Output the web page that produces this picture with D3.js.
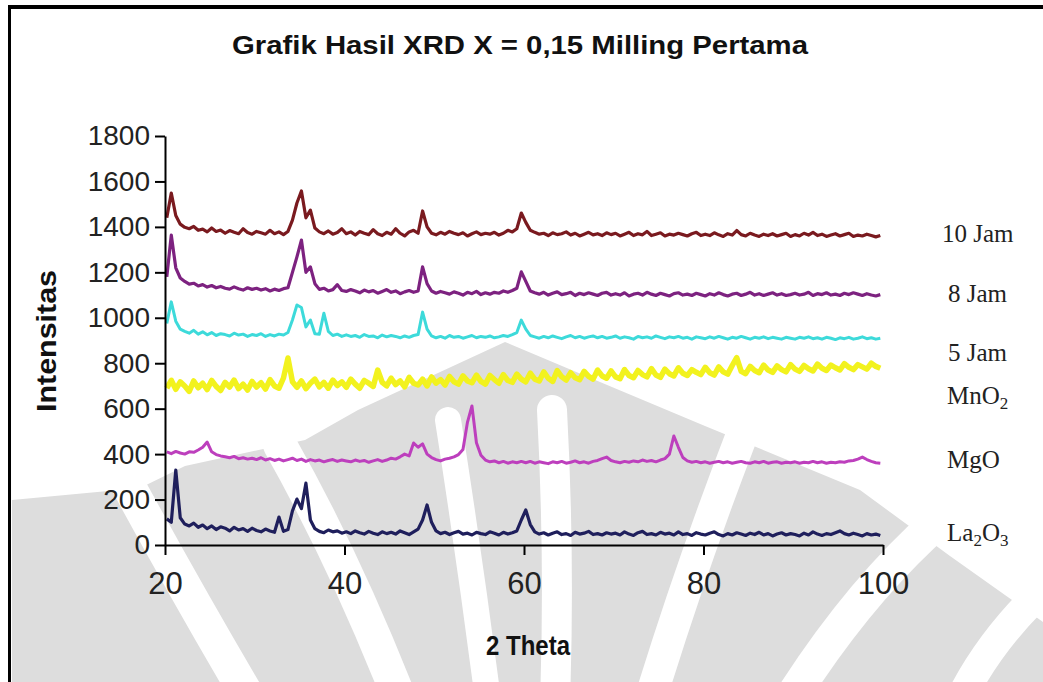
<!DOCTYPE html>
<html>
<head>
<meta charset="utf-8">
<script src="https://cdn.jsdelivr.net/npm/d3@7"></script>
<style>
  html, body { margin: 0; padding: 0; background: #fff; }
  svg { display: block; }
</style>
</head>
<body>
<svg id="chart" width="1043" height="682"></svg>
<script>
// 2-theta sampling grid of the diffractograms (degrees)
const thetaStart = 20.2;
const thetaStep = 0.5;

const xTicks = [20, 40, 60, 80, 100];
const yTicks = [0, 200, 400, 600, 800, 1000, 1200, 1400, 1600, 1800];

const seriesNames = ["10 Jam", "8 Jam", "5 Jam", "MnO2", "MgO", "La2O3"];

// intensities, one value per grid step (20.2 ... 99.7)
const jam10 = [
  1440, 1549, 1450, 1412, 1398, 1392, 1402, 1385, 1390, 1378, 1395, 1380, 1386, 1372, 1384, 1376, 1370, 1392, 1375, 1368,
  1380, 1374, 1368, 1385, 1370, 1378, 1366, 1380, 1430, 1505, 1558, 1440, 1474, 1395, 1378, 1370, 1382, 1368, 1375, 1392,
  1370, 1378, 1364, 1380, 1372, 1366, 1388, 1370, 1362, 1376, 1368, 1392, 1372, 1360, 1378, 1385, 1372, 1470, 1400, 1372,
  1365, 1376, 1368, 1380, 1372, 1366, 1374, 1360, 1370, 1378, 1366, 1372, 1368, 1376, 1364, 1372, 1385, 1378, 1392, 1461,
  1420, 1385, 1376, 1368, 1372, 1362, 1374, 1366, 1370, 1378, 1364, 1372, 1360, 1368, 1376, 1365, 1370, 1362, 1374, 1366,
  1372, 1360, 1368, 1376, 1362, 1370, 1365, 1380, 1362, 1368, 1374, 1360, 1368, 1364, 1372, 1366, 1360, 1370, 1376, 1362,
  1368, 1362, 1374, 1365, 1358, 1370, 1364, 1384, 1366, 1360, 1372, 1364, 1358, 1368, 1362, 1370, 1360, 1366, 1372, 1358,
  1366, 1360, 1372, 1364, 1376, 1362, 1368, 1358, 1364, 1370, 1360, 1366, 1372, 1358, 1364, 1360, 1368, 1362, 1356, 1362
];
const jam8 = [
  1180, 1364, 1220, 1175, 1160, 1148, 1152, 1140, 1146, 1135, 1142, 1132, 1138, 1130, 1126, 1136, 1128, 1122, 1132, 1125,
  1130, 1122, 1128, 1118, 1126, 1120, 1128, 1132, 1200, 1268, 1342, 1200, 1224, 1150, 1125, 1130, 1118, 1124, 1146, 1120,
  1116, 1124, 1118, 1110, 1122, 1114, 1120, 1108, 1116, 1124, 1112, 1118, 1106, 1114, 1120, 1112, 1118, 1224, 1150, 1118,
  1108, 1116, 1110, 1104, 1114, 1108, 1100, 1112, 1106, 1116, 1102, 1110, 1104, 1112, 1108, 1118, 1112, 1120, 1130, 1202,
  1160, 1118, 1110, 1104, 1112, 1100, 1108, 1114, 1102, 1106, 1112, 1098, 1108, 1102, 1110, 1104, 1098, 1108, 1112, 1100,
  1106, 1100, 1110, 1096, 1104, 1108, 1100, 1112, 1104, 1098, 1108, 1102, 1096, 1106, 1110, 1100, 1104, 1098, 1108, 1102,
  1096, 1106, 1100, 1110, 1102, 1096, 1104, 1108, 1098, 1104, 1112, 1100, 1106, 1098, 1104, 1110, 1100, 1106, 1098, 1102,
  1108, 1100, 1104, 1112, 1098, 1106, 1102, 1110, 1100, 1104, 1098, 1108, 1102, 1110, 1104, 1098, 1106, 1100, 1096, 1102
];
const jam5 = [
  975, 1070, 985, 950, 940, 932, 945, 928, 938, 925, 935, 922, 930, 926, 920, 932, 924, 928, 918, 926,
  922, 930, 918, 926, 920, 928, 924, 935, 990, 1056, 1045, 960, 990, 930, 928, 1020, 940, 922, 928, 918,
  925, 918, 922, 914, 926, 918, 920, 912, 924, 916, 922, 918, 912, 920, 914, 922, 926, 1025, 950, 920,
  912, 918, 910, 922, 914, 918, 910, 916, 922, 912, 918, 914, 920, 912, 916, 922, 918, 926, 935, 990,
  950, 922, 916, 910, 918, 912, 920, 914, 908, 916, 922, 912, 918, 910, 916, 920, 912, 918, 910, 914,
  920, 910, 916, 912, 906, 918, 912, 916, 910, 920, 914, 908, 916, 912, 918, 910, 914, 906, 916, 912,
  908, 916, 910, 918, 912, 906, 914, 910, 918, 912, 906, 914, 910, 916, 908, 914, 910, 906, 914, 910,
  906, 914, 910, 916, 908, 912, 906, 914, 910, 904, 912, 908, 914, 906, 910, 916, 908, 912, 906, 910
];
const mno2 = [
  690, 725, 685, 718, 700, 676, 722, 692, 712, 684, 724, 698, 680, 716, 695, 726, 688, 708, 682, 720,
  695, 714, 686, 728, 700, 690, 735, 823, 718, 694, 722, 688, 712, 730, 696, 716, 690, 726, 702, 718,
  694, 730, 708, 690, 724, 712, 698, 770, 716, 700, 734, 706, 722, 696, 738, 712, 704, 730, 700, 740,
  712, 728, 704, 742, 718, 708, 744, 722, 714, 748, 720, 708, 746, 728, 712, 750, 724, 716, 752, 730,
  718, 756, 730, 722, 762, 734, 720, 768, 740, 726, 758, 736, 728, 764, 742, 730, 770, 744, 734, 766,
  740, 732, 772, 746, 736, 768, 750, 740, 776, 748, 738, 774, 754, 744, 780, 756, 746, 772, 760, 750,
  782, 758, 748, 784, 762, 752, 790, 825, 764, 754, 786, 768, 758, 792, 770, 760, 788, 772, 762, 794,
  774, 764, 790, 776, 766, 796, 778, 768, 792, 780, 770, 798, 782, 772, 794, 784, 774, 800, 786, 778
];
const mgo = [
  410, 402, 412, 405, 400, 410, 408, 418, 430, 453, 410, 398, 392, 388, 384, 390, 380, 384, 378, 382,
  376, 384, 374, 380, 372, 378, 370, 376, 382, 372, 378, 368, 376, 370, 374, 366, 372, 376, 368, 374,
  370, 366, 374, 368, 372, 364, 370, 376, 368, 374, 382, 378, 388, 400, 392, 449, 430, 445, 400, 385,
  376, 370, 378, 382, 388, 398, 420, 540, 612, 450, 395, 374, 366, 370, 362, 368, 360, 366, 362, 368,
  362, 368, 360, 366, 362, 358, 366, 362, 368, 360, 364, 370, 362, 366, 360, 368, 372, 380, 387, 372,
  366, 362, 368, 364, 370, 366, 374, 368, 372, 366, 374, 380, 400, 480, 430, 385, 370, 364, 368, 362,
  366, 360, 364, 368, 362, 366, 360, 364, 368, 362, 360, 366, 362, 368, 360, 364, 366, 360, 364, 362,
  366, 360, 364, 362, 368, 362, 366, 360, 364, 362, 366, 364, 370, 372, 378, 387, 376, 368, 362, 360
];
const la2o3 = [
  115, 100, 330, 120, 92, 84, 96, 78, 88, 72, 84, 68, 80, 74, 62, 78, 66, 72, 60, 74,
  64, 58, 70, 62, 56, 123, 60, 68, 150, 202, 160, 272, 110, 72, 60, 54, 66, 58, 62, 52,
  58, 50, 62, 54, 48, 60, 52, 46, 58, 50, 56, 48, 62, 54, 46, 58, 70, 110, 176, 100,
  62, 50, 56, 46, 54, 60, 48, 52, 44, 56, 50, 46, 58, 52, 44, 56, 48, 54, 62, 110,
  154, 90, 58, 48, 54, 44, 52, 58, 46, 50, 42, 56, 48, 52, 60, 46, 50, 44, 54, 48,
  52, 44, 58, 48, 42, 54, 60, 46, 50, 44, 56, 48, 52, 44, 58, 46, 50, 42, 54, 48,
  44, 52, 58, 46, 40, 50, 44, 54, 48, 42, 52, 46, 56, 44, 50, 40, 48, 54, 44, 50,
  46, 40, 52, 44, 58, 48, 42, 50, 46, 54, 62, 50, 44, 52, 46, 40, 50, 44, 48, 42
];

// ---- layout -------------------------------------------------------------
const W = 1043, H = 682;
const plot = { left: 165, right: 883, top: 136, bottom: 545 };

const svg = d3.select("#chart");
svg.append("rect").attr("width", W).attr("height", H).attr("fill", "#fff");

// faint background emblem (light grey fan with white petals)
const emblem = svg.append("g").attr("class", "emblem");
emblem.append("path")
  .attr("d", "M505,342 L600,382 L705,426 L860,490 L950,556 L1043,622 L1043,682 L12,682 L12,500 L140,488 L185,466 L305,440 L358,410 Z")
  .attr("fill", "#dddddd");
const petals = [
  { d: "M250,700 Q185,590 120,470", w: 34 },
  { d: "M400,700 Q345,560 280,445", w: 34 },
  { d: "M488,700 Q470,560 448,420", w: 26 },
  { d: "M555,700 Q560,560 552,410", w: 30 },
  { d: "M650,700 Q690,570 740,440", w: 32 },
  { d: "M790,700 Q860,590 940,520", w: 34 },
  { d: "M960,700 Q990,640 1043,590", w: 30 }
];
emblem.selectAll("path.petal").data(petals).join("path")
  .attr("class", "petal")
  .attr("d", p => p.d)
  .attr("fill", "none")
  .attr("stroke", "#fff")
  .attr("stroke-width", p => p.w)
  .attr("stroke-linecap", "round");

// frame lines (top and left)
svg.append("line").attr("x1", 8).attr("x2", W).attr("y1", 7).attr("y2", 7)
  .attr("stroke", "#000").attr("stroke-width", 4);
svg.append("line").attr("x1", 9.5).attr("x2", 9.5).attr("y1", 5).attr("y2", H)
  .attr("stroke", "#000").attr("stroke-width", 3);

// ---- scales -------------------------------------------------------------
const x = d3.scaleLinear().domain([20, 100]).range([plot.left, plot.right]);
const y = d3.scaleLinear().domain([0, 1800]).range([plot.bottom, plot.top]);

const series = [
  { name: seriesNames[0], values: jam10, color: "#7a1a1f", width: 3.2 },
  { name: seriesNames[1], values: jam8, color: "#7d2280", width: 3.2 },
  { name: seriesNames[2], values: jam5, color: "#3ddada", width: 3 },
  { name: seriesNames[3], values: mno2, color: "#f2f21e", width: 5.5 },
  { name: seriesNames[4], values: mgo, color: "#bd3fbd", width: 3 },
  { name: seriesNames[5], values: la2o3, color: "#1f1f5c", width: 3.2 }
];

const line = d3.line()
  .x((d, i) => x(thetaStart + i * thetaStep))
  .y(d => y(d))
  .curve(d3.curveLinear);

svg.append("g").selectAll("path").data(series).join("path")
  .attr("d", s => line(s.values))
  .attr("fill", "none")
  .attr("stroke", s => s.color)
  .attr("stroke-width", s => s.width)
  .attr("stroke-linejoin", "round");

// ---- axes ---------------------------------------------------------------
const yAxis = d3.axisLeft(y).tickValues(yTicks).tickFormat(d3.format("d"))
  .tickSize(10).tickSizeOuter(0).tickPadding(5);
const xAxis = d3.axisBottom(x).tickValues(xTicks).tickFormat(d3.format("d"))
  .tickSize(10).tickSizeOuter(0).tickPadding(17);

const gy = svg.append("g").attr("transform", `translate(${plot.left},0)`).call(yAxis);
const gx = svg.append("g").attr("transform", `translate(0,${plot.bottom})`).call(xAxis);

[gx, gy].forEach(g => {
  g.selectAll(".domain").attr("stroke", "#000").attr("stroke-width", 2);
  g.selectAll(".tick line").attr("stroke", "#000").attr("stroke-width", 2);
  g.selectAll("text")
    .attr("font-family", "'Liberation Sans', Arial, sans-serif")
    .attr("fill", "#222");
});
gy.selectAll("text").attr("font-size", 28);
gx.selectAll("text").attr("font-size", 31);

// ---- titles -------------------------------------------------------------
svg.append("text")
  .attr("x", 520).attr("y", 54)
  .attr("text-anchor", "middle")
  .attr("font-family", "'Liberation Sans', Arial, sans-serif")
  .attr("font-weight", "bold").attr("font-size", 26)
  .attr("textLength", 576).attr("lengthAdjust", "spacingAndGlyphs")
  .attr("fill", "#111")
  .text("Grafik Hasil  XRD X = 0,15 Milling Pertama");

svg.append("text")
  .attr("transform", "translate(56,341) rotate(-90)")
  .attr("text-anchor", "middle")
  .attr("font-family", "'Liberation Sans', Arial, sans-serif")
  .attr("font-weight", "bold").attr("font-size", 28)
  .attr("textLength", 142).attr("lengthAdjust", "spacingAndGlyphs")
  .attr("fill", "#111")
  .text("Intensitas");

svg.append("text")
  .attr("x", 528).attr("y", 655)
  .attr("text-anchor", "middle")
  .attr("font-family", "'Liberation Sans', Arial, sans-serif")
  .attr("font-weight", "bold").attr("font-size", 28)
  .attr("textLength", 84).attr("lengthAdjust", "spacingAndGlyphs")
  .attr("fill", "#111")
  .text("2 Theta");

// ---- series labels ------------------------------------------------------
const labelRows = [
  { parts: [["10 Jam", false]], x: 942, y: 242 },
  { parts: [["8 Jam", false]], x: 948, y: 302 },
  { parts: [["5 Jam", false]], x: 948, y: 361 },
  { parts: [["MnO", false], ["2", true]], x: 947, y: 404 },
  { parts: [["MgO", false]], x: 947, y: 468 },
  { parts: [["La", false], ["2", true], ["O", false], ["3", true]], x: 947, y: 541 }
];
const lab = svg.append("g")
  .attr("font-family", "'Liberation Serif', 'Times New Roman', serif")
  .attr("font-size", 25)
  .attr("fill", "#222");
labelRows.forEach(r => {
  const t = lab.append("text").attr("x", r.x).attr("y", r.y);
  r.parts.forEach(([str, sub]) => {
    const ts = t.append("tspan").text(str);
    if (sub) ts.attr("font-size", 17).attr("dy", 5);
    else if (t.selectAll("tspan").size() > 1) ts.attr("dy", -5);
  });
});
</script>
</body>
</html>
